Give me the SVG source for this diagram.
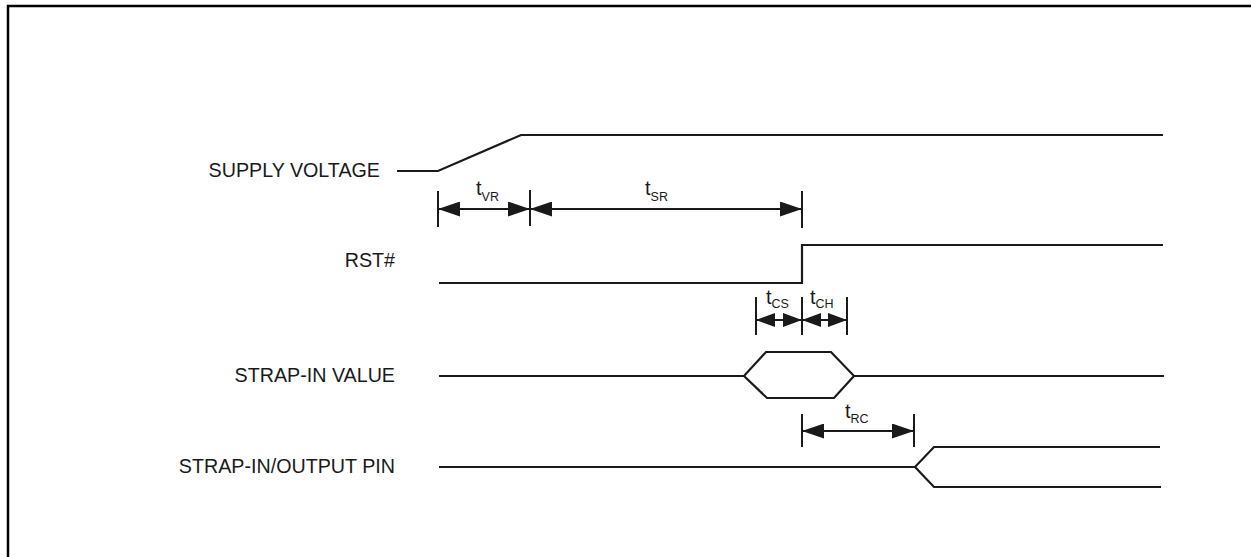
<svg xmlns="http://www.w3.org/2000/svg" width="1251" height="557" viewBox="0 0 1251 557">
<style>
.sig{fill:none;stroke:#1a1a1a;stroke-width:2.2;stroke-linejoin:miter}
.tick{fill:none;stroke:#1a1a1a;stroke-width:2}
.dim{fill:none;stroke:#1a1a1a;stroke-width:2}
.big{marker-start:url(#arr);marker-end:url(#arr)}
.small{marker-start:url(#arrs);marker-end:url(#arrs)}
.lbl{font-family:"Liberation Sans",Arial,sans-serif;font-size:19.7px;fill:#1a1a1a}
.t{font-family:"Liberation Sans",Arial,sans-serif;font-size:20px;fill:#1a1a1a}
.sub{font-size:12.5px}
</style>
<defs>
<marker id="arr" markerUnits="userSpaceOnUse" markerWidth="22" markerHeight="15" refX="22" refY="7.5" orient="auto-start-reverse" viewBox="0 0 22 15">
<path d="M0,0 L22,7.5 L0,15 z" fill="#1a1a1a"/>
</marker>
<marker id="arrs" markerUnits="userSpaceOnUse" markerWidth="19" markerHeight="14" refX="19" refY="7" orient="auto-start-reverse" viewBox="0 0 19 14">
<path d="M0,0 L19,7 L0,14 z" fill="#1a1a1a"/>
</marker>
</defs>
<rect x="0" y="0" width="1251" height="557" fill="#fff"/>
<rect x="8" y="6" width="1300" height="600" fill="none" stroke="#000" stroke-width="2.5"/>

<g id="supply-voltage">
<text class="lbl" x="380" y="177" text-anchor="end">SUPPLY VOLTAGE</text>
<path class="sig" d="M397,171 L438,171 L521,135 L1163,135"/>
</g>
<g id="rst">
<text class="lbl" x="395" y="267" text-anchor="end">RST#</text>
<path class="sig" d="M439,283 L802,283 L802,245 L1163,245"/>
</g>
<g id="strap-in-value">
<text class="lbl" x="395" y="382" text-anchor="end">STRAP-IN VALUE</text>
<path class="sig" d="M439,376 L744,376 L766,352 L831,352 L854,376 L1164,376"/>
<path class="sig" d="M744,376 L767,398 L834,398 L854,376"/>
</g>
<g id="strap-in-output-pin">
<text class="lbl" x="395" y="473" text-anchor="end">STRAP-IN/OUTPUT PIN</text>
<path class="sig" d="M439,467 L915,467 L934,447 L1160,447"/>
<path class="sig" d="M915,467 L934,487 L1161,487"/>
</g>

<g id="connectors">
<g id="ticks">
<path class="tick" d="M438,191 V227 M530,190 V226 M802,191 V228"/>
<path class="tick" d="M756,297 V335 M802,297 V335 M847,297 V335"/>
<path class="tick" d="M802,414 V447 M914,414 V447"/>
</g>
<path id="tVR" class="dim big" d="M438,209 H530"/>
<path id="tSR" class="dim big" d="M530,209 H802"/>
<path id="tCS" class="dim small" d="M756,320 H802"/>
<path id="tCH" class="dim small" d="M802,320 H847"/>
<path id="tRC" class="dim big" d="M802,431 H914"/>
</g>

<g id="labels">
<text class="t" x="476" y="195">t<tspan class="sub" dy="6">VR</tspan></text>
<text class="t" x="645" y="195">t<tspan class="sub" dy="6">SR</tspan></text>
<text class="t" x="766" y="304">t<tspan class="sub" dy="4">CS</tspan></text>
<text class="t" x="810" y="304">t<tspan class="sub" dy="4">CH</tspan></text>
<text class="t" x="845" y="418">t<tspan class="sub" dy="5">RC</tspan></text>
</g>
</svg>
